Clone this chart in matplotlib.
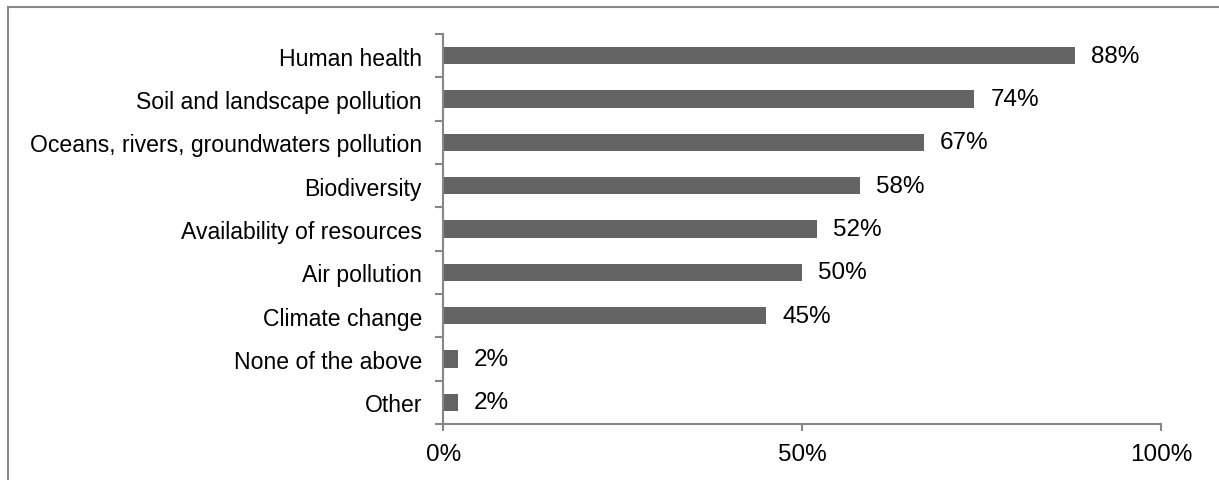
import matplotlib.pyplot as plt
from matplotlib.lines import Line2D
from matplotlib.ticker import FixedLocator, FuncFormatter

plt.rcParams['font.family'] = ['Liberation Sans', 'DejaVu Sans']

categories = [
    'Human health',
    'Soil and landscape pollution',
    'Oceans, rivers, groundwaters pollution',
    'Biodiversity',
    'Availability of resources',
    'Air pollution',
    'Climate change',
    'None of the above',
    'Other',
]
values = [88, 74, 67, 58, 52, 50, 45, 2, 2]
x_ticks = [0, 50, 100]

bar_color = '#646464'
axis_color = '#868686'

fig = plt.figure(figsize=(12.19, 4.81), dpi=100)
ax = fig.add_axes([0.3638, 0.1164, 0.5886, 0.8108])

n = len(categories)
ypos = list(range(n))[::-1]
ax.barh(ypos, values, height=0.4, color=bar_color, zorder=2)

for y, v in zip(ypos, values):
    ax.annotate(f'{v}%', xy=(v, y), xytext=(11.5, 0), textcoords='offset points',
                va='center', ha='left', fontsize=17.5, color='black')

ax.set_xlim(0, 100)
ax.set_ylim(-0.5, n - 0.5)

ax.set_yticks(ypos)
ax.set_yticklabels(categories, fontsize=16.6)
ax.yaxis.set_minor_locator(FixedLocator([i - 0.5 for i in range(n + 1)]))
ax.tick_params(axis='y', which='major', length=0, pad=15.5)
ax.tick_params(axis='y', which='minor', length=5.8, width=1.5, color=axis_color, direction='out')

ax.set_xticks(x_ticks)
ax.xaxis.set_major_formatter(FuncFormatter(lambda v, _: f'{v:.0f}%'))
ax.tick_params(axis='x', length=5, width=1.5, color=axis_color, direction='out',
               labelsize=17.5, pad=9)

for side in ('top', 'right'):
    ax.spines[side].set_visible(False)
for side in ('left', 'bottom'):
    ax.spines[side].set_color(axis_color)
    ax.spines[side].set_linewidth(1.5)

# outer frame, only its top and left edges fall inside the image
fig.add_artist(Line2D([8 / 1219, 8 / 1219], [0, 1 - 7.5 / 481],
                      transform=fig.transFigure, color='#8a8a8a', linewidth=1.5))
fig.add_artist(Line2D([8 / 1219, 1], [1 - 7.5 / 481, 1 - 7.5 / 481],
                      transform=fig.transFigure, color='#8a8a8a', linewidth=1.5))

fig.savefig('out.png', dpi=100)
